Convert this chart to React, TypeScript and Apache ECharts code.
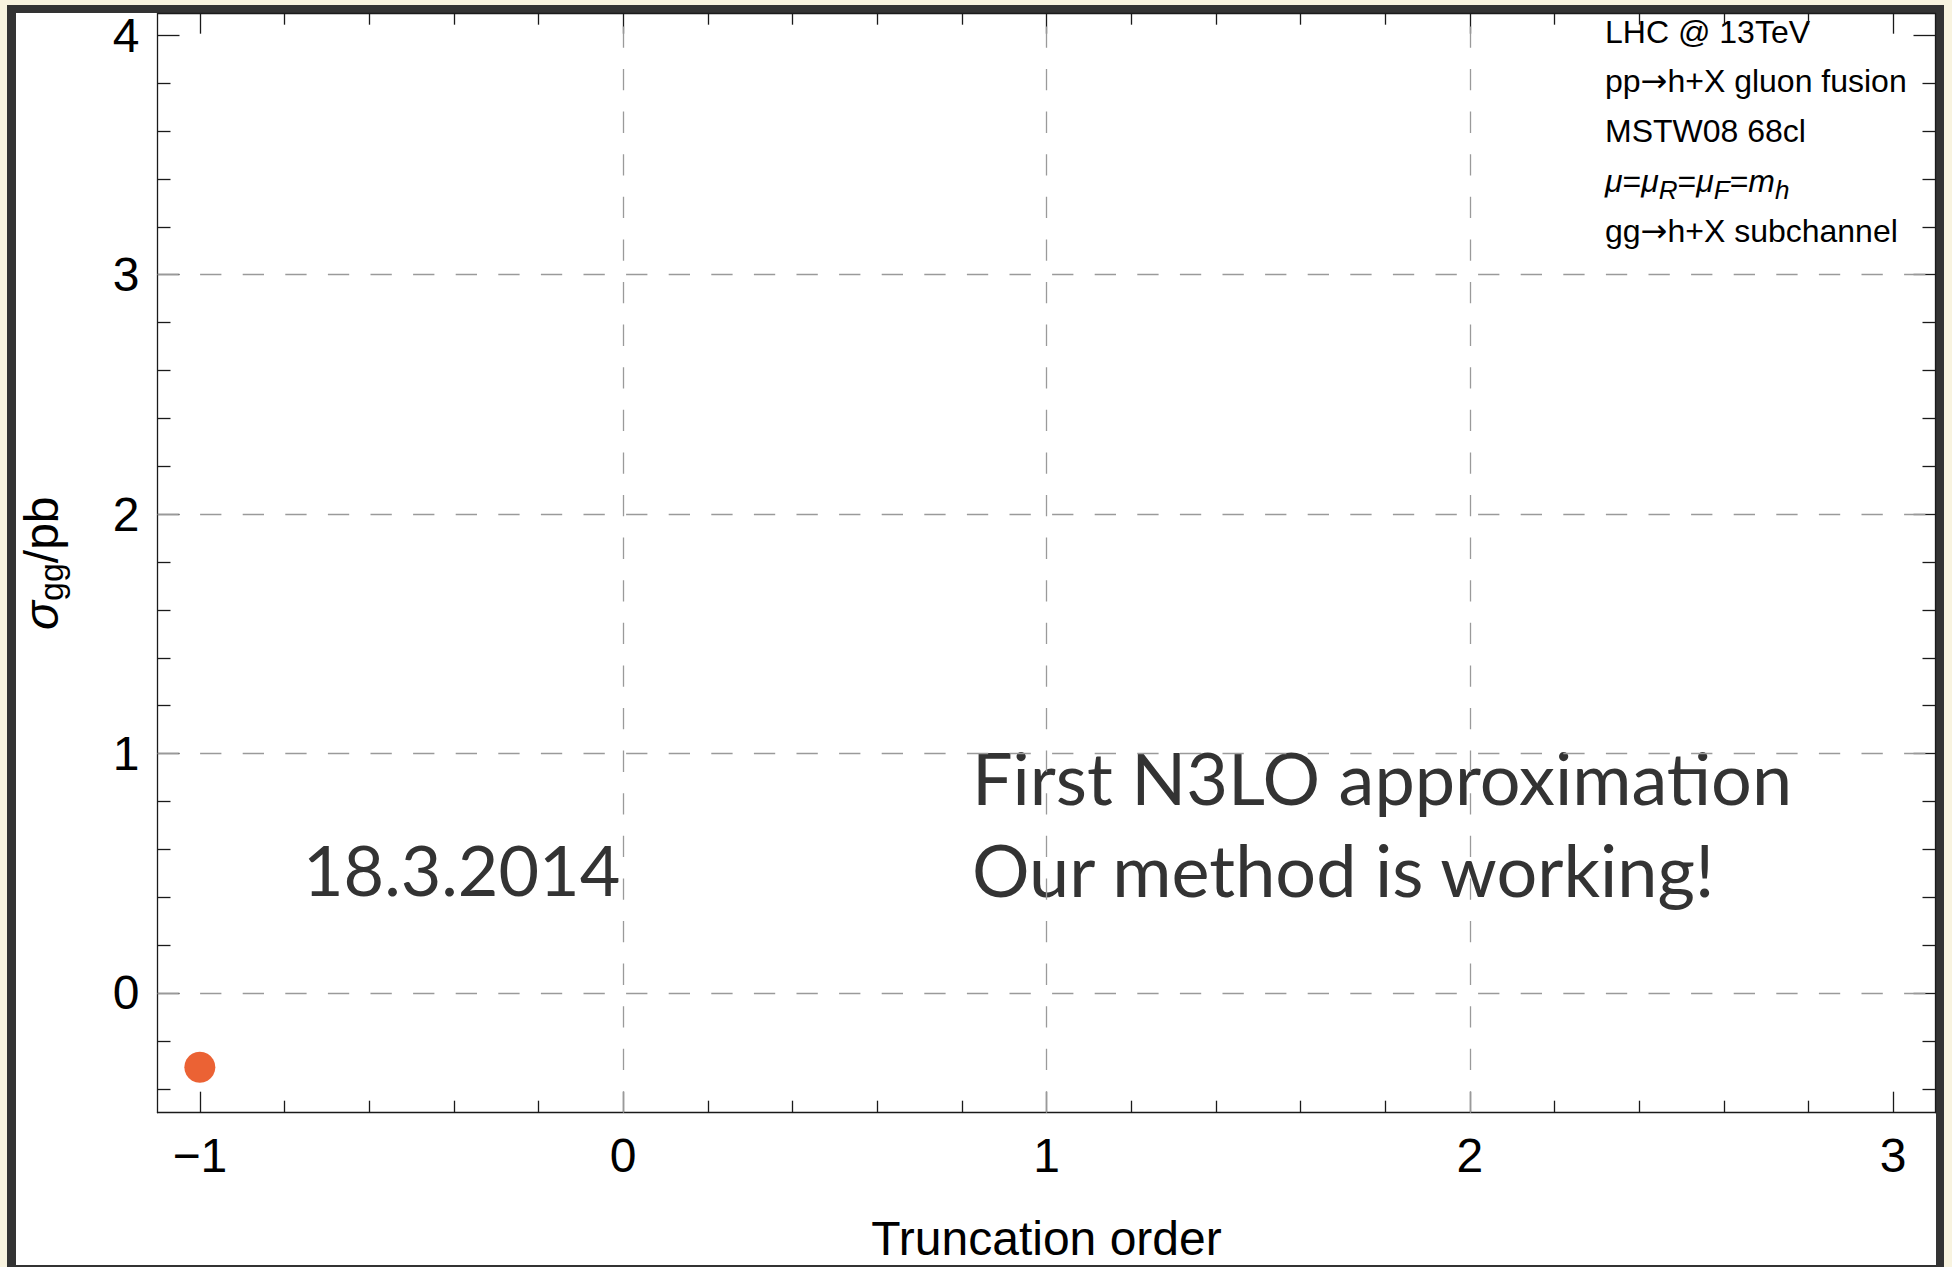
import React, { useEffect, useRef } from 'react';
import * as echarts from 'echarts';

// ---- data ----
const xRange = [-1.1, 3.1];
const yRange = [-0.5, 4.09];
const xMajorTicks = [-1, 0, 1, 2, 3];
const xMinorTicks = [-0.8, -0.6, -0.4, -0.2, 0.2, 0.4, 0.6, 0.8, 1.2, 1.4, 1.6, 1.8, 2.2, 2.4, 2.6, 2.8];
const yMajorTicks = [0, 1, 2, 3, 4];
const yMinorTicks = [-0.4, -0.2, 0.2, 0.4, 0.6, 0.8, 1.2, 1.4, 1.6, 1.8, 2.2, 2.4, 2.6, 2.8, 3.2, 3.4, 3.6, 3.8];
const xGridLines = [0, 1, 2];
const yGridLines = [0, 1, 2, 3];
const truncationOrders = [-1];
const sigmaGG = [-0.31];
const infoLines = [
  'LHC @ 13TeV',
  'pp{a|→}h+X gluon fusion',
  'MSTW08 68cl',
  '{i|μ}={i|μ}{s|R}={i|μ}{s|F}={i|m}{s|h}',
  'gg{a|→}h+X subchannel',
];
const dateText = '18.3.2014';
const messageLines = ['First N3LO approximation', 'Our method is working!'];
const xAxisTitle = 'Truncation order';
const yAxisTitle = '{s|σ}{sub|gg}{n|/pb}';

const axisFont = "'Liberation Sans', Arial, Helvetica, sans-serif";
const lineColor = '#1a1a1a';
const fmt = (v: number) => (v < 0 ? '\u2212' + String(-v) : String(v));

function mkX(position: string, ticks: number[], len: number, primary: boolean, labels: boolean, extra: any = {}) {
  return {
    type: 'value',
    gridIndex: 0,
    position,
    min: xRange[0],
    max: xRange[1],
    axisLine: { show: primary, onZero: false, lineStyle: { color: lineColor, width: 1.3 } },
    axisTick: { show: true, inside: true, length: len, customValues: ticks, lineStyle: { color: lineColor, width: 1.3 } },
    axisLabel: labels
      ? { show: true, customValues: ticks, formatter: fmt, fontSize: 48, color: '#000', fontFamily: axisFont, margin: 19 }
      : { show: false },
    splitLine: { show: false },
    ...extra,
  };
}
function mkY(position: string, ticks: number[], len: number, primary: boolean, labels: boolean, extra: any = {}) {
  return {
    type: 'value',
    gridIndex: 0,
    position,
    min: yRange[0],
    max: yRange[1],
    axisLine: { show: primary, onZero: false, lineStyle: { color: lineColor, width: 1.3 } },
    axisTick: { show: true, inside: true, length: len, customValues: ticks, lineStyle: { color: lineColor, width: 1.3 } },
    axisLabel: labels
      ? { show: true, customValues: ticks, formatter: fmt, fontSize: 48, color: '#000', fontFamily: axisFont, margin: 18 }
      : { show: false },
    splitLine: { show: false },
    ...extra,
  };
}

export default function App() {
  const ref = useRef<HTMLDivElement>(null);
  useEffect(() => {
    if (!ref.current) return;
    const chart = echarts.init(ref.current, null, { renderer: 'svg' });
    const infoY = [32, 81, 131, 181, 231];
    const msgY = [777, 869];
    chart.setOption({
      animation: false,
      grid: { left: 157.5, right: 16.5, top: 13.7, bottom: 154.3, containLabel: false, outerBoundsMode: 'none' },
      xAxis: [
        mkX('bottom', xMajorTicks, 21, true, true, {
          name: xAxisTitle,
          nameLocation: 'middle',
          nameGap: 106,
          nameTextStyle: { fontSize: 48, lineHeight: 40, color: '#000', fontFamily: axisFont },
        }),
        mkX('bottom', xMinorTicks, 12, false, false),
        mkX('top', xMajorTicks, 20, true, false),
        mkX('top', xMinorTicks, 11, false, false),
      ],
      yAxis: [
        mkY('left', yMajorTicks, 22, true, true, {
          name: yAxisTitle,
          nameLocation: 'middle',
          nameGap: 90,
          nameRotate: 90,
          nameTextStyle: {
            color: '#000',
            fontFamily: axisFont,
            rich: {
              s: { fontSize: 48, fontStyle: 'italic', fontFamily: axisFont, color: '#000' },
              sub: { fontSize: 34, fontFamily: axisFont, color: '#000', padding: [18, 0, 0, 0] },
              n: { fontSize: 48, fontFamily: axisFont, color: '#000' },
            },
          },
        }),
        mkY('left', yMinorTicks, 13, false, false),
        mkY('right', yMajorTicks, 22, true, false),
        mkY('right', yMinorTicks, 13, false, false),
      ],
      series: [
        {
          type: 'scatter',
          xAxisIndex: 0,
          yAxisIndex: 0,
          data: truncationOrders.map((x, i) => [x, sigmaGG[i]]),
          symbol: 'circle',
          symbolSize: 31,
          itemStyle: { color: '#EB6234', opacity: 1 },
          z: 5,
          markLine: {
            silent: true,
            symbol: ['none', 'none'],
            label: { show: false },
            lineStyle: { color: '#9a9a9a', width: 1.3, type: [21.3, 21.3] },
            emphasis: { disabled: true },
            data: [
              ...xGridLines.map((v) => ({ xAxis: v })),
              ...yGridLines.map((v) => ({ yAxis: v })),
            ],
          },
        },
      ],
      graphic: [
        ...infoLines.map((t, i) => ({
          type: 'text',
          x: 1605,
          y: infoY[i],
          silent: true,
          style: {
            text: t,
            fontSize: 32,
            fontFamily: axisFont,
            fill: '#000',
            align: 'left',
            verticalAlign: 'middle',
            rich: {
              a: { fontSize: 32, fontFamily: "'DejaVu Sans', sans-serif", fill: '#000' },
              i: { fontSize: 32, fontStyle: 'italic', fontFamily: axisFont, fill: '#000' },
              s: { fontSize: 26, fontStyle: 'italic', fontFamily: axisFont, fill: '#000', padding: [18, 0, 0, 0] },
            },
          },
        })),
        {
          type: 'text',
          x: 303,
          y: 869,
          silent: true,
          style: { text: dateText, fontSize: 70, fontFamily: 'Lato', fill: '#333', align: 'left', verticalAlign: 'middle' },
        },
        ...messageLines.map((t, i) => ({
          type: 'text',
          x: 972,
          y: msgY[i],
          silent: true,
          style: { text: t, fontSize: 72, fontFamily: 'Lato', fill: '#333', align: 'left', verticalAlign: 'middle' },
        })),
      ],
    });
    return () => chart.dispose();
  }, []);

  return (
    <div style={{ position: 'fixed', left: 0, top: 0, width: 1952, height: 1267, background: '#F8F3DF', overflow: 'hidden' }}>
      <div style={{ position: 'absolute', left: 7, top: 5, width: 1937, height: 1270, background: '#333' }} />
      <div style={{ position: 'absolute', left: 16, top: 13.3, width: 1919.5, height: 1251.7, background: '#fff' }} />
      <div ref={ref} style={{ position: 'absolute', left: 0, top: 0, width: 1952, height: 1267 }} />
    </div>
  );
}
